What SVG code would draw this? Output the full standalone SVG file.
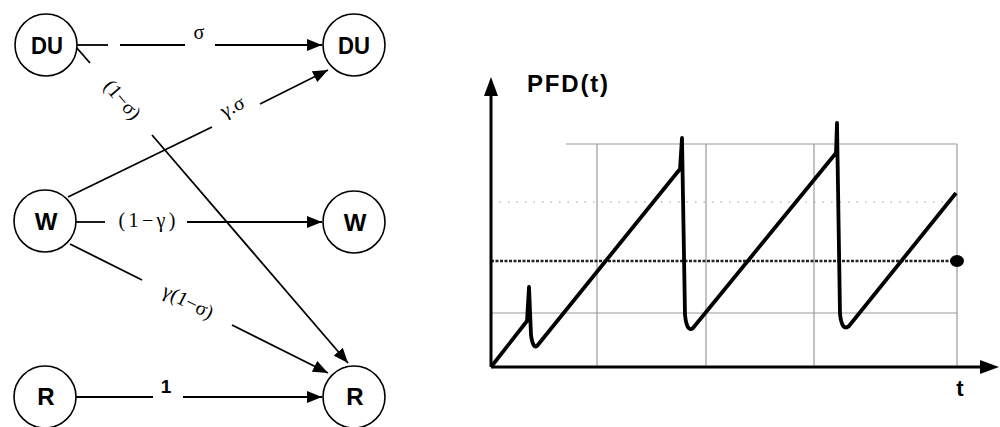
<svg xmlns="http://www.w3.org/2000/svg" width="1000" height="427" viewBox="0 0 1000 427">
<defs>
<marker id="ah" markerUnits="userSpaceOnUse" markerWidth="16" markerHeight="12" refX="15" refY="6" orient="auto"><path d="M0,0 L15,6 L0,12 z" fill="#000"/></marker>
</defs>
<style>
.node circle{fill:#fff;stroke:#000;stroke-width:1.6}
.nl{font-family:"Liberation Sans",Arial,sans-serif;font-weight:bold;font-size:24px;text-anchor:middle;fill:#000}
.edge{stroke:#000;stroke-width:1.8;fill:none}
.el{font-family:"Liberation Serif","Times New Roman",serif;font-size:20px;text-anchor:middle;fill:#000}
.grid{stroke:#999;stroke-width:1.2;fill:none}
.axis{stroke:#000;stroke-width:3;fill:none}
</style>
<rect width="1000" height="427" fill="#fff"/>
<g id="connectors">
  <line class="edge" x1="77" y1="45" x2="108" y2="45"/>
  <line class="edge" x1="120" y1="45" x2="185" y2="45"/>
  <line class="edge" x1="215" y1="45" x2="322" y2="45" marker-end="url(#ah)"/>
  <text class="el" x="199" y="39">σ</text>

  <line class="edge" x1="76" y1="47" x2="90" y2="63"/>
  <line class="edge" x1="152" y1="135" x2="348" y2="363" marker-end="url(#ah)"/>
  <text class="el" transform="translate(122,100) rotate(49.3)" y="6">(1−σ)</text>

  <line class="edge" x1="68" y1="197" x2="212" y2="127"/>
  <line class="edge" x1="260" y1="104" x2="328" y2="70" marker-end="url(#ah)"/>
  <text class="el" transform="translate(233,108) rotate(-26)" y="5">γ.σ</text>

  <line class="edge" x1="76" y1="222" x2="105" y2="222"/>
  <line class="edge" x1="187" y1="222" x2="322" y2="222" marker-end="url(#ah)"/>
  <text class="el" x="147" y="227" textLength="57">(1−γ)</text>

  <line class="edge" x1="70" y1="244" x2="142" y2="280"/>
  <line class="edge" x1="232" y1="325" x2="328" y2="373" marker-end="url(#ah)"/>
  <text class="el" transform="translate(188,302) rotate(26.6)" y="6">γ(1−σ)</text>

  <line class="edge" x1="76" y1="397" x2="153" y2="397"/>
  <line class="edge" x1="183" y1="397" x2="322" y2="397" marker-end="url(#ah)"/>
  <text x="166" y="393" font-family="Liberation Sans, Arial, sans-serif" font-weight="bold" font-size="19" text-anchor="middle">1</text>
</g>
<g id="du-left" class="node"><circle cx="46" cy="45" r="31"/><text class="nl" x="47" y="54" textLength="32" lengthAdjust="spacingAndGlyphs">DU</text></g>
<g id="du-right" class="node"><circle cx="354" cy="45" r="31"/><text class="nl" x="354" y="54" textLength="32" lengthAdjust="spacingAndGlyphs">DU</text></g>
<g id="w-left" class="node"><circle cx="45" cy="221" r="31"/><text class="nl" x="46" y="230">W</text></g>
<g id="w-right" class="node"><circle cx="354" cy="222" r="31"/><text class="nl" x="355" y="231">W</text></g>
<g id="r-left" class="node"><circle cx="45" cy="397" r="31"/><text class="nl" x="46" y="405" font-size="22">R</text></g>
<g id="r-right" class="node"><circle cx="354" cy="397" r="31"/><text class="nl" x="355" y="405" font-size="22">R</text></g>

<g id="chart">
  <line class="grid" x1="566" y1="144" x2="957" y2="144"/>
  <line class="grid" x1="597" y1="144" x2="597" y2="367"/>
  <line class="grid" x1="706" y1="144" x2="706" y2="367"/>
  <line class="grid" x1="814" y1="144" x2="814" y2="367"/>
  <line class="grid" x1="957" y1="144" x2="957" y2="367"/>
  <line class="grid" x1="491" y1="202" x2="957" y2="202" stroke-dasharray="1.5,7"/>
  <line class="grid" x1="491" y1="313" x2="957" y2="313"/>
  <line x1="491" y1="261" x2="957" y2="261" stroke="#222" stroke-width="2.5" stroke-dasharray="3,1.5"/>
  <ellipse cx="957" cy="261" rx="7" ry="6" fill="#000"/>
  <line class="axis" x1="491" y1="367" x2="491" y2="92"/>
  <polygon points="491,77 484,96 498,96" fill="#000"/>
  <line class="axis" x1="491" y1="367" x2="984" y2="367"/>
  <polygon points="999,367 980,360 980,374" fill="#000"/>
  <path d="M491,367 L527,321 L529,287 L531,335 Q533,349 537,346 L680,169 L682,138 L685,315 Q687,333 693,328 L836,153 L837,123 L840,314 Q842,332 849,326 L956,193" fill="none" stroke="#000" stroke-width="3.8" stroke-linejoin="round"/>
  <text x="527" y="92" font-family="Liberation Sans, Arial, sans-serif" font-weight="bold" font-size="24" textLength="81">PFD(t)</text>
  <text x="960" y="396" font-family="Liberation Sans, Arial, sans-serif" font-weight="bold" font-size="22" text-anchor="middle">t</text>
</g>
</svg>
